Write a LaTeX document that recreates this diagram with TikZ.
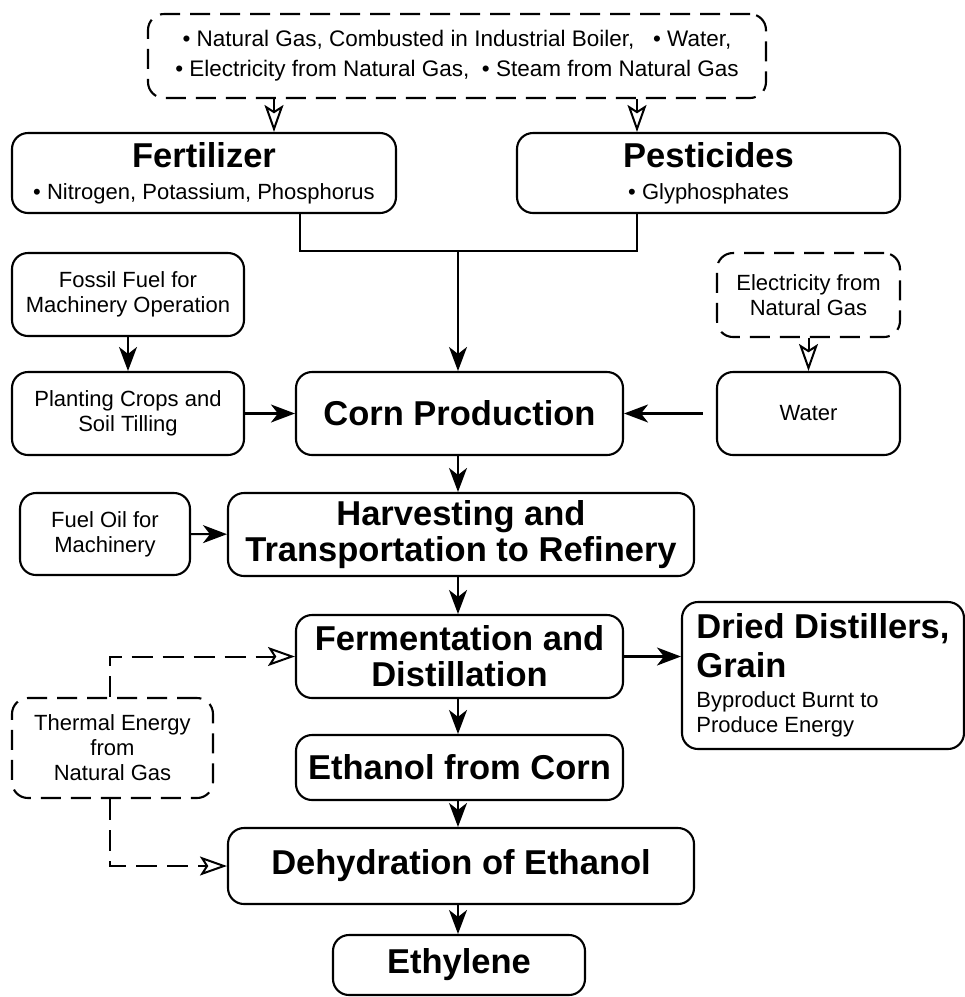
\documentclass[tikz,border=0pt]{standalone}
\usepackage{fontspec}
\setmainfont{Liberation Sans}
\usetikzlibrary{arrows.meta}
\newcommand\bigt{\fontsize{34.5}{38}\selectfont\bfseries}
\newcommand\smallt{\normalfont\fontsize{22}{26}\selectfont}
\begin{document}
\begin{tikzpicture}[x=1pt,y=-1pt,
  box/.style={draw, line width=2.1pt, rounded corners=16pt, align=center, inner sep=0pt},
  dbox/.style={box, dash pattern=on 20pt off 10pt},
  sm/.style={font=\fontsize{22}{25}\selectfont},
  bg/.style={font=\fontsize{34.5}{36}\selectfont\bfseries},
  line/.style={line width=2.1pt},
  arr/.style={line, -{Stealth[length=24pt,width=18pt,inset=7pt]}},
  oarr/.style={line width=2pt, -{Stealth[open,length=27pt,width=19pt,inset=6pt]}},
  darr/.style={oarr, dash pattern=on 21pt off 10pt}]
\useasboundingbox (0,0) rectangle (965,997);

\node[dbox, minimum width=618pt, minimum height=84pt, font=\fontsize{22.5}{30}\selectfont] (top) at (457,56)
  {\textbullet{} Natural Gas, Combusted in Industrial Boiler, \ \ \textbullet{} Water,\\
   \textbullet{} Electricity from Natural Gas, \ \textbullet{} Steam from Natural Gas};

\node[box, minimum width=384pt, minimum height=80pt, font=\fontsize{22}{32}\selectfont] (fert) at (204,173)
  {\bigt Fertilizer\\ \smallt \textbullet{} Nitrogen, Potassium, Phosphorus};
\node[box, minimum width=383pt, minimum height=80pt, font=\fontsize{22}{32}\selectfont] (pest) at (708.5,173)
  {\bigt Pesticides\\ \smallt \textbullet{} Glyphosphates};

\node[box, sm, minimum width=232pt, minimum height=83pt] (fossil) at (128,294.5)
  {Fossil Fuel for\\ Machinery Operation};
\node[box, sm, minimum width=232pt, minimum height=83pt] (plant) at (128,413.5)
  {Planting Crops and\\ Soil Tilling};
\node[box, bg, minimum width=327pt, minimum height=83pt] (corn) at (459.5,413.5)
  {Corn Production};
\node[dbox, sm, minimum width=183pt, minimum height=84pt] (elec) at (808.5,295)
  {Electricity from\\ Natural Gas};
\node[box, sm, minimum width=183pt, minimum height=83pt] (water) at (808.5,413.5)
  {Water};

\node[box, sm, minimum width=170pt, minimum height=82pt] (fuel) at (105,534)
  {Fuel Oil for\\ Machinery};
\node[box, bg, minimum width=466pt, minimum height=83pt] (harv) at (461,534.5)
  {Harvesting and\\ Transportation to Refinery};

\node[box, bg, minimum width=327pt, minimum height=83pt] (ferm) at (459.5,656.5)
  {Fermentation and\\ Distillation};
\node[box, minimum width=282pt, minimum height=147pt, align=left,
      font=\fontsize{34.5}{39}\selectfont\bfseries] (ddg) at (823,675.5)
  {Dried Distillers,\\ Grain\\[-9pt]
   \smallt Byproduct Burnt to\\[-14pt] \smallt Produce Energy};

\node[dbox, sm, minimum width=201pt, minimum height=100pt] (therm) at (112.5,748)
  {Thermal Energy\\ from\\ Natural Gas};

\node[box, bg, minimum width=327pt, minimum height=65pt] (eth) at (459.5,767.5)
  {Ethanol from Corn};
\node[box, bg, minimum width=466pt, minimum height=76pt] (dehyd) at (461,866)
  {Dehydration of Ethanol};
\node[box, bg, minimum width=252pt, minimum height=60pt] (ethy) at (459,965)
  {Ethylene};

% coordinates
\coordinate (c1) at (274,0);
\coordinate (c2) at (637,0);
\coordinate (fx) at (300,251);
\coordinate (px) at (637,251);
\coordinate (jx) at (458,251);
\coordinate (tx) at (110,0);

% connectors
\draw[oarr] (top.south -| c1) -- (fert.north -| c1);
\draw[oarr] (top.south -| c2) -- (pest.north -| c2);
\draw[line] (fert.south -| fx) -- (fx) -- (px) -- (pest.south -| px);
\draw[arr] (jx) -- (corn.north -| jx);
\draw[arr] (fossil) -- (plant);
\draw[arr] (plant) -- (corn);
\draw[oarr] (elec) -- (water);
\draw[arr, shorten <=13pt] (water) -- (corn);
\draw[arr] (corn.south -| jx) -- (harv.north -| jx);
\draw[arr] (fuel) -- (harv);
\draw[arr] (harv.south -| jx) -- (ferm.north -| jx);
\draw[arr] (ferm.east) -- (ferm.east -| ddg.west);
\draw[arr] (ferm.south -| jx) -- (eth.north -| jx);
\draw[arr] (eth.south -| jx) -- (dehyd.north -| jx);
\draw[arr] (dehyd.south -| jx) -- (ethy.north -| jx);
\draw[darr] (therm.north -| tx) |- (ferm.west);
\draw[darr] (therm.south -| tx) |- (dehyd.west);
\end{tikzpicture}
\end{document}
